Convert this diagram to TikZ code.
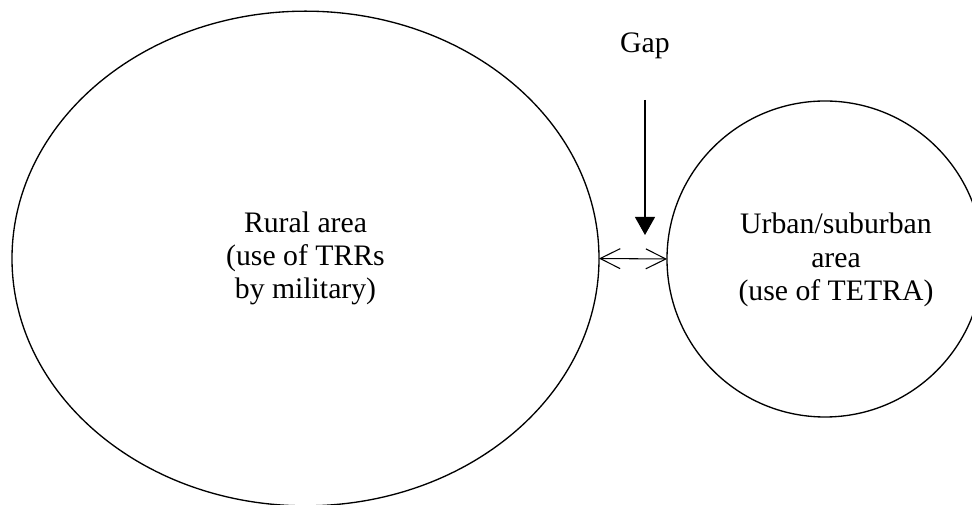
\documentclass[tikz,border=0pt]{standalone}
\usepackage{fontspec}
\setmainfont{Liberation Serif}
\usetikzlibrary{shapes.geometric,arrows.meta}
\begin{document}
\begin{tikzpicture}[x=0.75pt,y=-0.75pt,
  lbl/.style={font=\fontsize{22.3}{25}\selectfont,align=center},
  region/.style={draw,line width=1pt,inner sep=0pt,outer sep=0pt,lbl}]
\useasboundingbox (0,0) rectangle (972,505);
\clip (0,0) rectangle (972,505);
\node[region,ellipse,minimum width=440.25pt,minimum height=371pt] (rural) at (305.5,258.5)
  {Rural area\\(use of TRRs\\by military)};
\node[region,circle,minimum size=237pt] (urban) at (825,259) {};
\node[lbl] (utext) at (836,260) {Urban/suburban\\area\\(use of TETRA)};
\node[lbl] (gap) at (645,46) {Gap};
\coordinate (gtop) at (645,100);
\coordinate (gtip) at (645,235);
\draw[line width=0.8pt,-{Triangle[length=13.5pt,width=15pt]}] (gtop) -- (gtip);
\draw[line width=0.8pt,{Straight Barb[length=15pt,width=15pt]}-{Straight Barb[length=15pt,width=15pt]}] (rural.east) -- (urban.west);
\end{tikzpicture}
\end{document}
